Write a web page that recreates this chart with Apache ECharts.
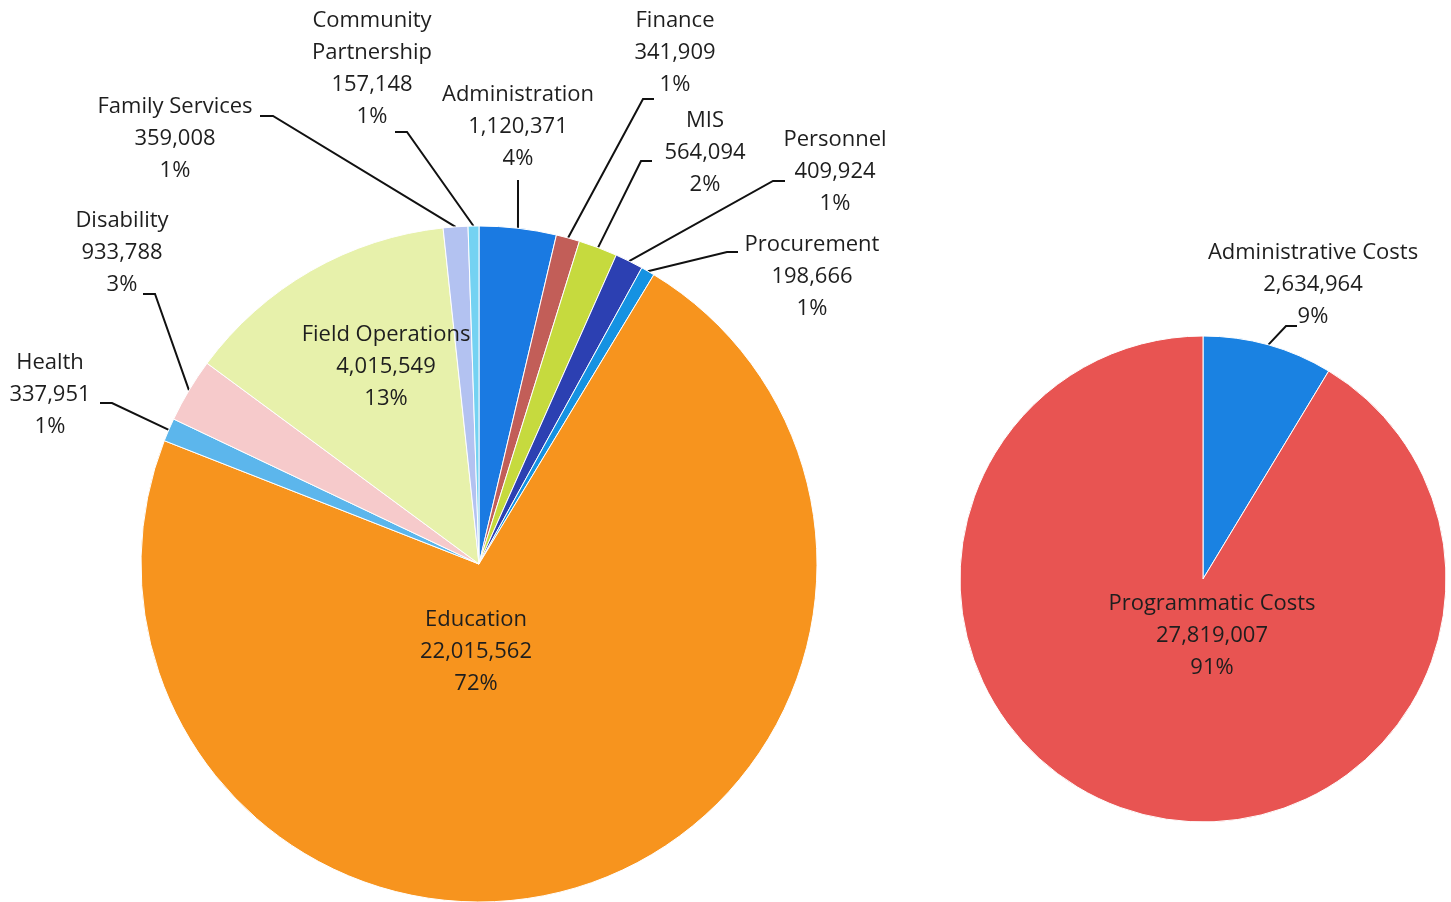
<!DOCTYPE html>
<html>
<head>
<meta charset="utf-8">
<script src="https://cdn.jsdelivr.net/npm/echarts@6/dist/echarts.min.js"></script>
<style>
  html, body { margin: 0; padding: 0; background: #fff; }
  #main { width: 1451px; height: 902px; }
</style>
</head>
<body>
<div id="main"></div>
<script>
// left pie: departments, clockwise from 12 o'clock
var deptNames = ['Administration', 'Finance', 'MIS', 'Personnel', 'Procurement', 'Education',
  'Health', 'Disability', 'Field Operations', 'Family Services', 'Community Partnership'];
var deptValues = [1120371, 341909, 564094, 409924, 198666, 22015562,
  337951, 933788, 4015549, 359008, 157148];

// right pie: cost split
var costNames = ['Administrative Costs', 'Programmatic Costs'];
var costValues = [2634964, 27819007];

var deptColors = ['#1a7ae2', '#c25e58', '#c6da3e', '#2c40b2', '#1592e2', '#f7941e',
  '#5cb6ec', '#f6cacb', '#e7f1ab', '#b3c2f1', '#74d2f2'];
var costColors = ['#1a82e2', '#e85452'];

// slices whose label sits inside the pie
var insideLabels = ['Education', 'Field Operations', 'Programmatic Costs'];

// label centres (px) in the same order as the data
var deptLabelPos = [[518, 127], [675, 53], [705, 153], [835, 172], [812, 277], [476, 652],
  [50, 395], [122, 253], [386, 367], [175, 139], [372, 69]];
var costLabelPos = [[1313, 285], [1212, 636]];

// leader line: label end point, then the elbow (px); slice end comes from echarts
var deptLeader = [[518, 180, 518, 190], [654, 99, 643, 99], [652, 161, 641, 161],
  [785, 181, 773, 181], [738, 252, 727, 252], null,
  [100, 403, 112, 403], [143, 294, 155, 294], null, [260, 116, 273, 116], [395, 132, 407, 132]];
var costLeader = [[1297, 326, 1286, 326], null];

function fmt(params) {
  var name = params.name.replace(' Partnership', '\nPartnership');
  return name + '\n' + params.value.toLocaleString('en-US') + '\n' + Math.round(params.percent) + '%';
}

function buildData(names, values, colors) {
  var out = [];
  for (var i = 0; i < names.length; i++) {
    var inside = insideLabels.indexOf(names[i]) >= 0;
    out.push({
      name: names[i],
      value: values[i],
      itemStyle: { color: colors[i] },
      label: { position: inside ? 'inside' : 'outside' },
      labelLine: { show: !inside }
    });
  }
  return out;
}

function layoutFrom(pos, leader) {
  return function (params) {
    var p = pos[params.dataIndex];
    var res = { x: p[0], y: p[1], align: 'center', verticalAlign: 'middle' };
    var l = leader[params.dataIndex];
    if (l && params.labelLinePoints) {
      var edge = params.labelLinePoints[0];
      res.labelLinePoints = [[edge[0], edge[1]], [l[2], l[3]], [l[0], l[1]]];
    }
    return res;
  };
}

var labelStyle = {
  formatter: fmt,
  fontFamily: 'Open Sans',
  fontSize: 22,
  lineHeight: 32,
  color: '#1e1e1e',
  align: 'center'
};

var chart = echarts.init(document.getElementById('main'));

var option = {
  backgroundColor: '#fff',
  animation: false,
  series: [
    {
      type: 'pie',
      center: [479, 564],
      radius: 338,
      startAngle: 90,
      clockwise: true,
      avoidLabelOverlap: false,
      itemStyle: { borderColor: '#fff', borderWidth: 1 },
      label: labelStyle,
      labelLine: { lineStyle: { color: '#111', width: 2 }, length: 20, length2: 10 },
      labelLayout: layoutFrom(deptLabelPos, deptLeader),
      data: buildData(deptNames, deptValues, deptColors)
    },
    {
      type: 'pie',
      center: [1203, 579],
      radius: 243,
      startAngle: 90,
      clockwise: true,
      avoidLabelOverlap: false,
      itemStyle: { borderColor: '#fff', borderWidth: 1 },
      label: labelStyle,
      labelLine: { lineStyle: { color: '#111', width: 2 }, length: 10, length2: 10 },
      labelLayout: layoutFrom(costLabelPos, costLeader),
      data: buildData(costNames, costValues, costColors)
    }
  ]
};

chart.setOption(option);
</script>
</body>
</html>
